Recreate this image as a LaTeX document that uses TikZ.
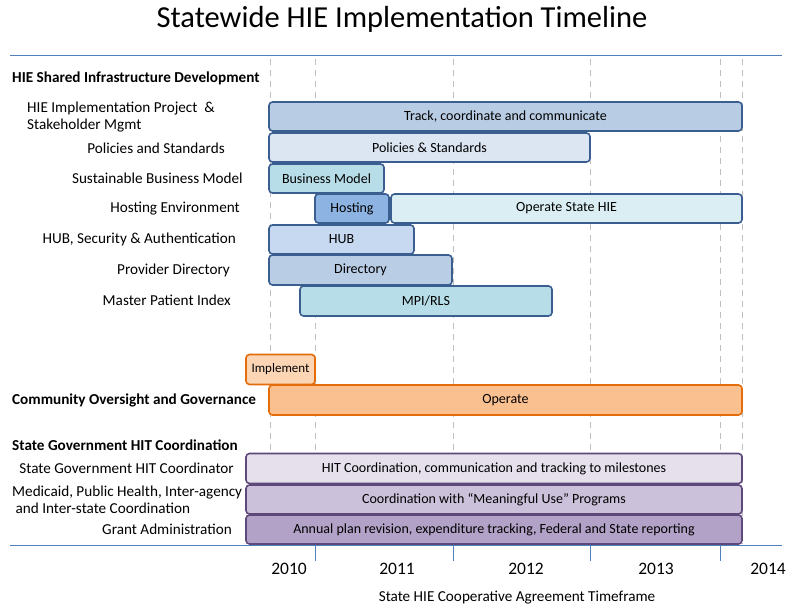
\documentclass[tikz,border=0pt]{standalone}
\usepackage{fontspec}
\setmainfont{Carlito}
\definecolor{axisblue}{RGB}{79,129,189}
\definecolor{gridgray}{RGB}{191,191,191}
\definecolor{blueline}{RGB}{59,94,145}
\definecolor{orangeline}{RGB}{228,108,10}
\definecolor{purpleline}{RGB}{95,73,122}
\definecolor{trackfill}{RGB}{184,204,228}
\definecolor{policyfill}{RGB}{220,230,242}
\definecolor{aquafill}{RGB}{183,222,232}
\definecolor{hostfill}{RGB}{141,179,226}
\definecolor{operatefill}{RGB}{218,238,243}
\definecolor{hubfill}{RGB}{198,217,241}
\definecolor{dirfill}{RGB}{185,205,229}
\definecolor{implfill}{RGB}{252,213,181}
\definecolor{opfill}{RGB}{250,192,144}
\definecolor{hitfill}{RGB}{229,224,236}
\definecolor{mufill}{RGB}{204,193,218}
\definecolor{grantfill}{RGB}{179,162,199}
\tikzset{
  bar/.style={rounded corners=3.5pt, line width=1.6pt, inner sep=0pt, font=\fontsize{14}{14}\selectfont},
  bluebar/.style={bar, draw=blueline},
  orangebar/.style={bar, draw=orangeline},
  purplebar/.style={bar, draw=purpleline},
  rowlabel/.style={font=\fontsize{15.2}{17}\selectfont, inner sep=0pt},
  headlabel/.style={font=\fontsize{15.2}{17}\selectfont\bfseries, inner sep=0pt, anchor=west},
  grid/.style={gridgray, line width=1pt, dash pattern=on 6pt off 5pt},
  axis/.style={axisblue, line width=1pt}
}
\begin{document}
\begin{tikzpicture}[x=1pt,y=1pt,yscale=-1]
\useasboundingbox (0,0) rectangle (790,609);

% Title
\node[font=\fontsize{30.5}{33}\selectfont] (title) at (402,19) {Statewide HIE Implementation Timeline};

% frame lines and year grid
\coordinate (topL) at (10,56);
\coordinate (topR) at (782,56);
\coordinate (botL) at (10,545);
\coordinate (botR) at (782,545);
\draw[axis] (topL) -- (topR);
\draw[axis] (botL) -- (botR);
\foreach \gx in {270,315,453,590,720,742}
  \draw[grid] (\gx,59) -- (\gx,544);
\foreach \tx in {315,453,590,720}
  \draw[axis] (\tx,545) -- (\tx,561);

% Years
\foreach \yx/\yr in {289/2010,397/2011,526/2012,656/2013,768/2014}
  \node[font=\fontsize{17.5}{17.5}\selectfont] (y\yr) at (\yx,569) {\yr};
\node[font=\fontsize{15.2}{17}\selectfont] (timeframe) at (517,598) {State HIE Cooperative Agreement Timeframe};

% HIE Shared Infrastructure Development
\node[headlabel] (shared) at (12,78) {HIE Shared Infrastructure Development};
\node[rowlabel, anchor=west, align=left] (project) at (27,117) {HIE Implementation Project~~\&\\Stakeholder Mgmt};
\node[rowlabel, anchor=east] (policies) at (225,148) {Policies and Standards};
\node[rowlabel, anchor=east] (business) at (243,178) {Sustainable Business Model};
\node[rowlabel, anchor=east] (hostenv) at (240,209) {Hosting Environment};
\node[rowlabel, anchor=east] (hubsec) at (236,239) {HUB, Security \& Authentication};
\node[rowlabel, anchor=east] (provider) at (230,270) {Provider Directory};
\node[rowlabel, anchor=east] (mpi) at (231,300) {Master Patient Index};

\node[bluebar, fill=trackfill, minimum width=473, minimum height=29] (track) at (505.5,116.5) {Track, coordinate and communicate};
\node[bluebar, fill=policyfill, minimum width=321, minimum height=29] (polbar) at (429.5,147.5) {Policies \& Standards};
\node[bluebar, fill=aquafill, minimum width=115, minimum height=29] (busbar) at (326.5,178.5) {Business Model};
\node[bluebar, fill=hostfill, minimum width=74, minimum height=29] (hostbar) at (352,208.5) {Hosting};
\node[bluebar, fill=operatefill, minimum width=351, minimum height=29] (statebar) at (566.5,208.5) {Operate State HIE};
\node[bluebar, fill=hubfill, minimum width=145, minimum height=29] (hubbar) at (341.5,239.5) {HUB};
\node[bluebar, fill=dirfill, minimum width=183, minimum height=30] (dirbar) at (360.5,270) {Directory};
\node[bluebar, fill=aquafill, minimum width=252, minimum height=30] (mpibar) at (426,301) {MPI/RLS};

% Community Oversight and Governance
\node[orangebar, fill=implfill, minimum width=69, minimum height=30, font=\fontsize{13}{13}\selectfont] (implbar) at (280.5,369.5) {Implement};
\node[headlabel] (community) at (12,400) {Community Oversight and Governance};
\node[orangebar, fill=opfill, minimum width=473, minimum height=30] (opbar) at (505.5,400) {Operate};

% State Government HIT Coordination
\node[headlabel] (stategov) at (12,445) {State Government HIT Coordination};
\node[rowlabel, anchor=east] (coordinator) at (234,468) {State Government HIT Coordinator};
\node[rowlabel, anchor=west, align=left] (medicaid) at (12,500) {Medicaid, Public Health, Inter-agency\\\ and Inter-state Coordination};
\node[rowlabel, anchor=east] (grant) at (232,529) {Grant Administration};

\node[purplebar, fill=hitfill, minimum width=496, minimum height=30] (hitbar) at (494,468.5) {HIT Coordination, communication and tracking to milestones};
\node[purplebar, fill=mufill, minimum width=496, minimum height=29] (mubar) at (494,499.5) {Coordination with “Meaningful Use” Programs};
\node[purplebar, fill=grantfill, minimum width=496, minimum height=29] (grantbar) at (494,529.5) {Annual plan revision, expenditure tracking, Federal and State reporting};

\end{tikzpicture}
\end{document}
